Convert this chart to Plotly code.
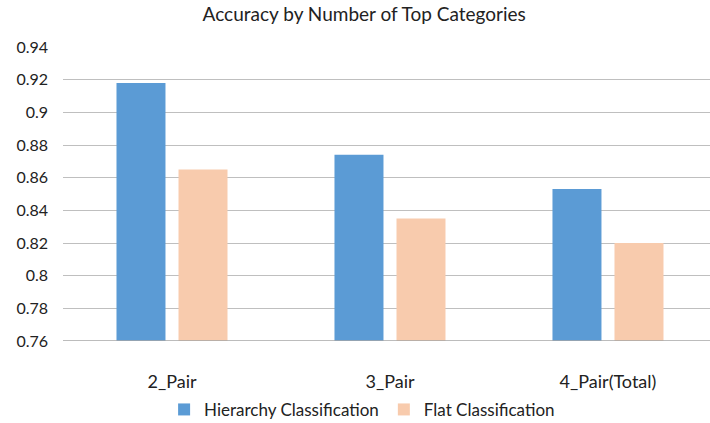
import plotly.graph_objects as go

categories = ["2_Pair", "3_Pair", "4_Pair(Total)"]
hierarchy = [0.918, 0.874, 0.853]
flat = [0.865, 0.835, 0.820]
y_ticks = [0.76, 0.78, 0.8, 0.82, 0.84, 0.86, 0.88, 0.9, 0.92, 0.94]
y_tick_text = ["0.76", "0.78", "0.8", "0.82", "0.84", "0.86", "0.88", "0.9", "0.92", "0.94"]

FONT = "Lato, Open Sans, sans-serif"

fig = go.Figure()
fig.add_trace(go.Bar(x=categories, y=hierarchy, name="Hierarchy Classification",
                     marker=dict(color="#5B9BD5", line=dict(width=0))))
fig.add_trace(go.Bar(x=categories, y=flat, name="Flat Classification",
                     marker=dict(color="#F8CBAD", line=dict(width=0))))

fig.update_layout(
    width=710, height=423,
    margin=dict(l=63, r=0, t=47, b=82, autoexpand=False),
    paper_bgcolor="white", plot_bgcolor="white",
    barmode="group", bargap=0.431, bargroupgap=0.21,
    title=dict(text="Accuracy by Number of Top Categories", x=0.513, xanchor="center",
               y=0.967, yanchor="middle", yref="container",
               font=dict(family=FONT, size=19, color="#222222")),
    font=dict(family=FONT, size=15, color="#222222"),
    showlegend=True,
    legend=dict(orientation="h", x=0.51, xanchor="center", xref="container",
                y=0.031, yanchor="middle", yref="container",
                font=dict(family=FONT, size=17, color="#222222"),
                itemwidth=30, traceorder="normal"),
)
fig.update_xaxes(range=[-0.5, 2.468], showgrid=False, showline=False, ticks="",
                 tickfont=dict(family=FONT, size=18, color="#222222"), ticklabelstandoff=28)
fig.update_yaxes(range=[0.76, 0.94], tickvals=y_ticks, ticktext=y_tick_text,
                 showgrid=True, gridcolor="#BFBFBF", gridwidth=1.3,
                 zeroline=False, showline=False, ticks="",
                 tickfont=dict(family=FONT, size=16, color="#222222"), ticklabelstandoff=14)
fig.add_shape(type="line", xref="paper", yref="y", x0=0, x1=1, y0=0.76, y1=0.76,
              line=dict(color="#A6A6A6", width=1.5))

fig.write_html("out.html", config={"displayModeBar": False},
               post_script="document.body.style.margin='0';document.body.style.overflow='hidden';")
